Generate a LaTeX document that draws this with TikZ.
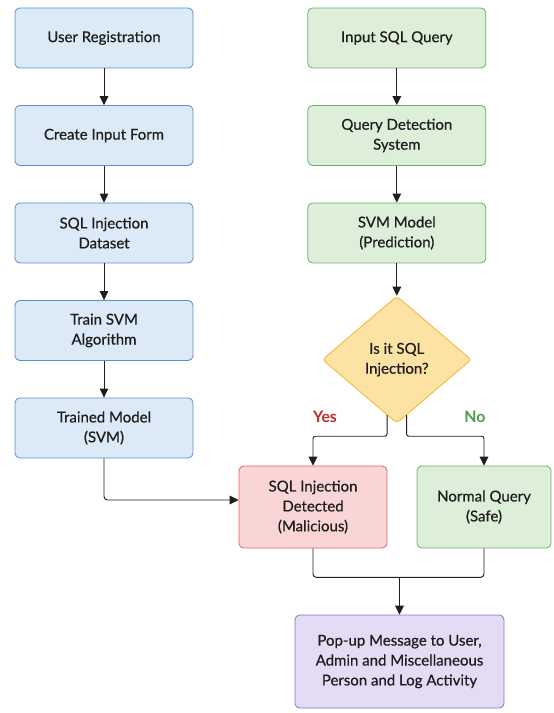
\documentclass[tikz,border=0pt]{standalone}
\usepackage{fontspec}
\setmainfont{Lato}
\newfontfamily\boxfont{Lato}[FakeBold=0.6]
\usepackage{xcolor}
\usepackage{tikz}
\usetikzlibrary{positioning,arrows.meta,shapes.geometric,calc}
\definecolor{ink}{HTML}{1E1E1E}
\definecolor{trainbg}{HTML}{DCE9F7}
\definecolor{trainln}{HTML}{5A8ED6}
\definecolor{querybg}{HTML}{DDEFD9}
\definecolor{queryln}{HTML}{6BB36B}
\definecolor{decbg}{HTML}{FCE3A4}
\definecolor{decln}{HTML}{F2B535}
\definecolor{badbg}{HTML}{F9D5D5}
\definecolor{badln}{HTML}{E36464}
\definecolor{popbg}{HTML}{E4DCF5}
\definecolor{popln}{HTML}{8E70CB}
\definecolor{yesc}{HTML}{C0282C}
\definecolor{noc}{HTML}{4E9A4E}
\tikzset{
  box/.style={draw, rounded corners=4pt, align=center, text=ink,
              font=\boxfont\fontsize{12.8}{17}\selectfont, inner sep=2pt,
              minimum width=53.4mm, minimum height=18mm, line width=0.7pt},
  trainbox/.style={box, draw=trainln, fill=trainbg},
  querybox/.style={box, draw=queryln, fill=querybg},
  decide/.style={diamond, draw=decln, fill=decbg, rounded corners=3pt,
                 align=center, text=ink, font=\boxfont\fontsize{12.8}{17}\selectfont,
                 minimum width=44.7mm, minimum height=38.1mm, inner sep=0pt,
                 line width=0.7pt},
  ar/.style={-{Triangle[length=2.7mm, width=2.6mm]}, line width=0.8pt, color=ink},
  ln/.style={line width=0.8pt, color=ink},
  lbl/.style={font=\fontsize{13.5}{15}\selectfont\bfseries},
}
\begin{document}
\begin{tikzpicture}[node distance=11mm]
\useasboundingbox (0,0) rectangle (165.9mm,-213.9mm);

% training side
\node[trainbox] (reg) at (31.2mm,-11.4mm) {User Registration};
\node[trainbox, below=of reg] (form) {Create Input Form};
\node[trainbox, below=of form] (data) {SQL Injection\\Dataset};
\node[trainbox, below=of data] (train) {Train SVM\\Algorithm};
\node[trainbox, below=of train] (model) {Trained Model\\(SVM)};
\draw[ar] (reg) -- (form);
\draw[ar] (form) -- (data);
\draw[ar] (data) -- (train);
\draw[ar] (train) -- (model);

% detection side
\node[querybox, right=34.2mm of reg] (input) {Input SQL Query};
\node[querybox, below=of input] (qds) {Query Detection\\System};
\node[querybox, below=of qds] (svm) {SVM Model\\(Prediction)};
\node[decide, below=9.7mm of svm] (isit) {Is it SQL\\Injection?};
\draw[ar] (input) -- (qds);
\draw[ar] (qds) -- (svm);
\draw[ar] (svm) -- (isit);

% outcomes
\node[box, draw=badln, fill=badbg, minimum width=44.4mm, minimum height=24.6mm]
  (bad) at (93.9mm,-152.1mm) {SQL Injection\\Detected\\(Malicious)};
\node[box, draw=queryln, fill=querybg, minimum width=40.2mm, minimum height=24.6mm]
  (safe) at (145.2mm,-152.1mm) {Normal Query\\(Safe)};
\node[box, draw=popln, fill=popbg, minimum width=62.7mm, minimum height=27.9mm]
  (popup) at (119.85mm,-198.45mm) {Pop-up Message to User,\\Admin and Miscellaneous\\Person and Log Activity};

\coordinate (yesout) at ($(isit.south)!0.13!(isit.west)$);
\coordinate (noout) at ($(isit.south)!0.13!(isit.east)$);
\draw[ar, rounded corners=2pt] (yesout) -- ++(0,-6.3mm) -| (bad.north);
\draw[ar, rounded corners=2pt] (noout) -- ++(0,-6.3mm) -| (safe.north);
\node[lbl, text=yesc] (yes) at (97.5mm,-125.1mm) {Yes};
\node[lbl, text=noc] (no) at (142.5mm,-125.1mm) {No};

\draw[ar, rounded corners=3pt] (model.south) |- ([yshift=2.1mm]bad.west);

\draw[ln, rounded corners=3pt] (bad.south) -- ++(0,-8.7mm) coordinate (mrg) -| (safe.south);
\draw[ar] (mrg -| popup.north) -- (popup.north);
\end{tikzpicture}
\end{document}
